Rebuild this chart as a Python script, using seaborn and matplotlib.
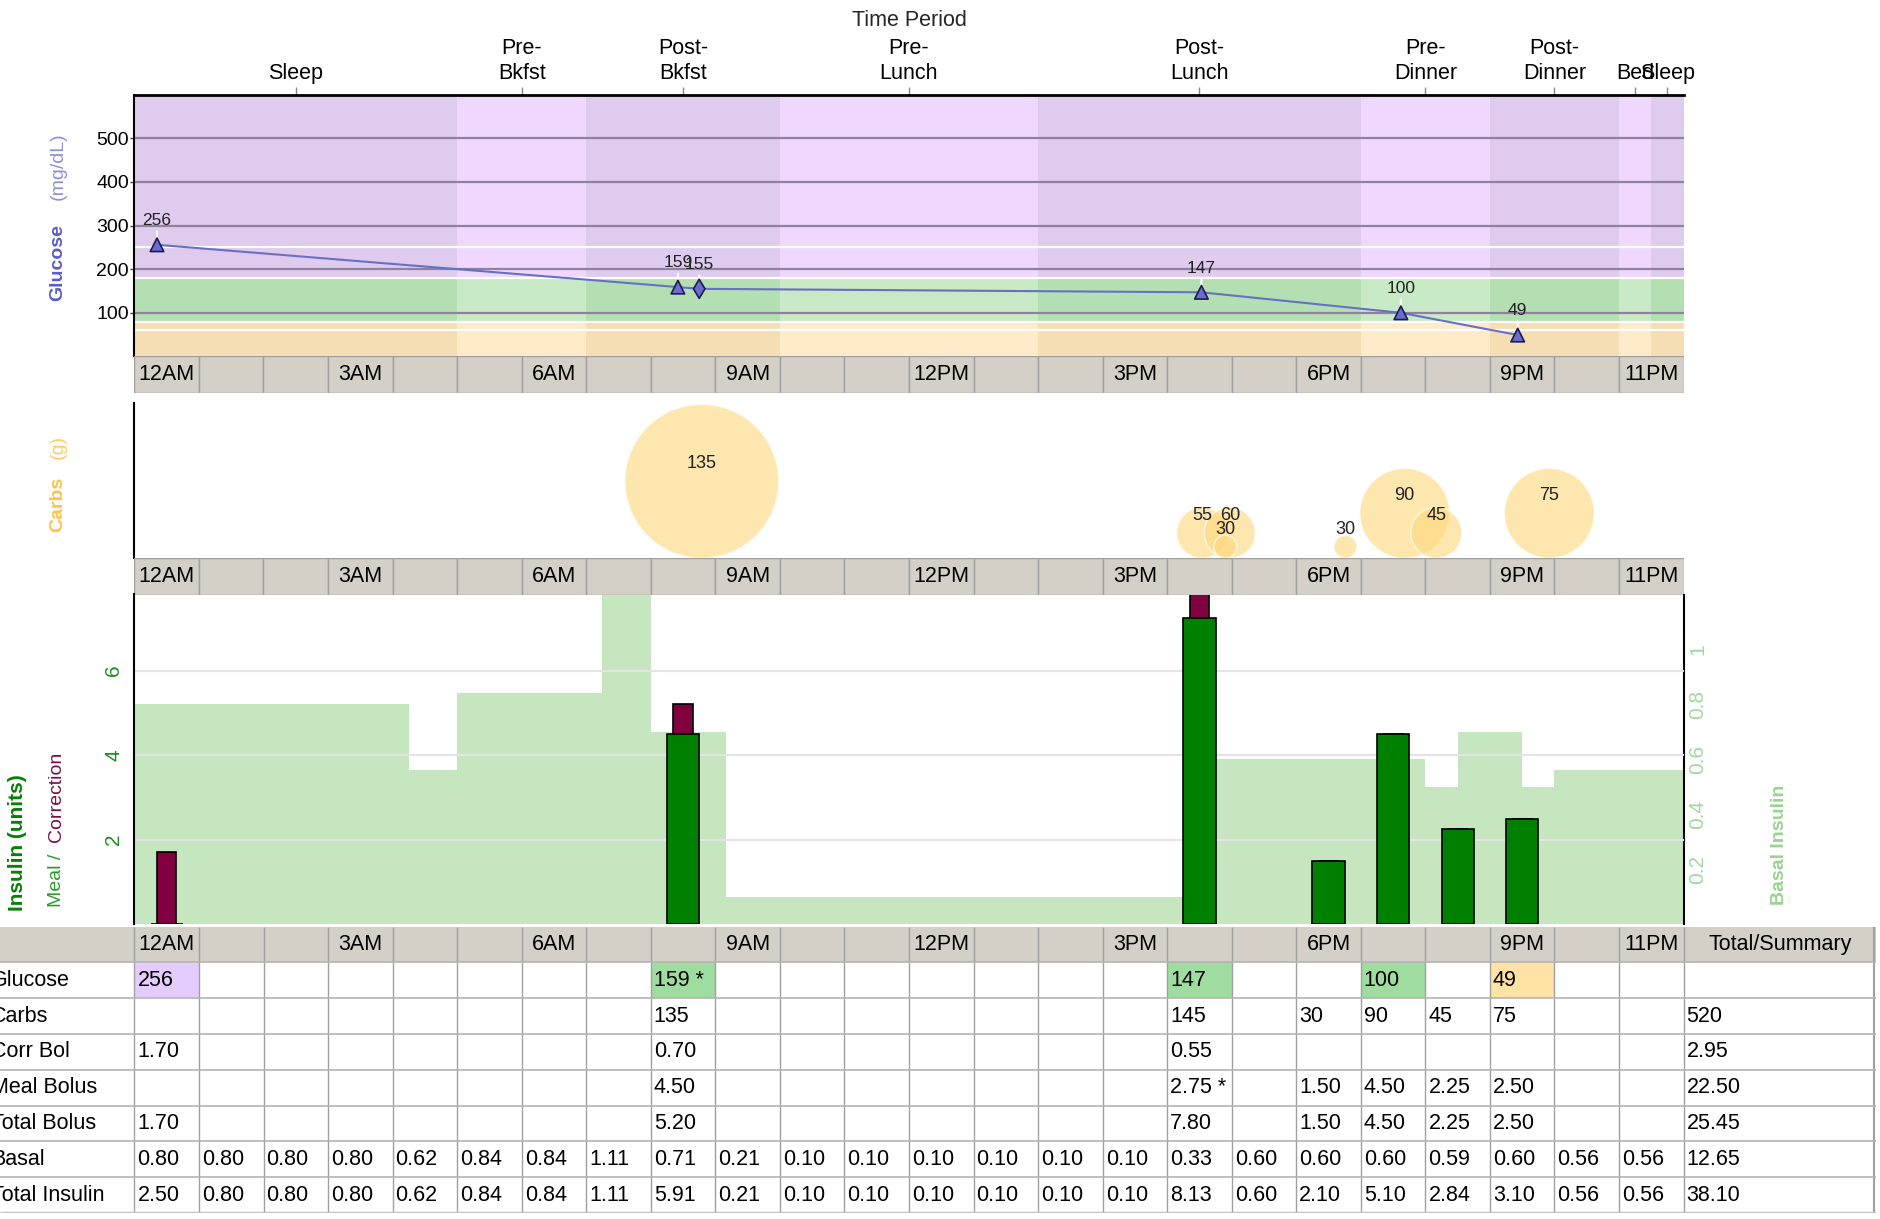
import numpy as np
import pandas as pd
import matplotlib
matplotlib.use("Agg")
import matplotlib.pyplot as plt
import seaborn as sns

W, H = 1881, 1219

# ---- data ----
period_names = ["Sleep", "Pre-\nBkfst", "Post-\nBkfst", "Pre-\nLunch", "Post-\nLunch",
                "Pre-\nDinner", "Post-\nDinner", "Bed", "Sleep"]
period_edges = [0, 5, 7, 10, 14, 19, 21, 23, 23.5, 24]

hour_labels = ["12AM", "3AM", "6AM", "9AM", "12PM", "3PM", "6PM", "9PM", "11PM"]
hour_label_pos = [0, 3, 6, 9, 12, 15, 18, 21, 23]

glucose_time = [0.35, 8.42, 8.75, 16.53, 19.62, 21.43]
glucose_value = [256, 159, 155, 147, 100, 49]
glucose_kind = ["meter", "meter", "sensor", "meter", "meter", "meter"]

carb_time = [8.79, 16.54, 16.97, 16.90, 18.76, 19.68, 20.17, 21.92]
carb_value = [135, 55, 60, 30, 30, 90, 45, 75]

bolus_time = [0.5, 8.5, 16.5, 18.5, 19.5, 20.5, 21.5]
bolus_meal = [0, 4.50, 7.25, 1.50, 4.50, 2.25, 2.50]
bolus_total = [1.70, 5.20, 7.80, 1.50, 4.50, 2.25, 2.50]

basal_time = [0, 4.25, 5.0, 7.25, 8.0, 9.17, 16.5, 20.0, 20.5, 21.5, 22.0, 24]
basal_rate = [0.80, 0.56, 0.84, 1.20, 0.70, 0.10, 0.60, 0.50, 0.70, 0.50, 0.56, 0.56]

table_rows = ["Glucose", "Carbs", "Corr Bol", "Meal Bolus", "Total Bolus", "Basal", "Total Insulin"]
tbl_glucose = {0: "256", 8: "159 *", 16: "147", 19: "100", 21: "49"}
tbl_carbs = {8: "135", 16: "145", 18: "30", 19: "90", 20: "45", 21: "75"}
tbl_corr = {0: "1.70", 8: "0.70", 16: "0.55"}
tbl_meal = {8: "4.50", 16: "2.75 *", 18: "1.50", 19: "4.50", 20: "2.25", 21: "2.50"}
tbl_total_bolus = {0: "1.70", 8: "5.20", 16: "7.80", 18: "1.50", 19: "4.50", 20: "2.25", 21: "2.50"}
tbl_basal = ["0.80", "0.80", "0.80", "0.80", "0.62", "0.84", "0.84", "1.11", "0.71", "0.21",
             "0.10", "0.10", "0.10", "0.10", "0.10", "0.10", "0.33", "0.60", "0.60", "0.60",
             "0.59", "0.60", "0.56", "0.56"]
tbl_total_insulin = ["2.50", "0.80", "0.80", "0.80", "0.62", "0.84", "0.84", "1.11", "5.91", "0.21",
                     "0.10", "0.10", "0.10", "0.10", "0.10", "0.10", "8.13", "0.60", "2.10", "5.10",
                     "2.84", "3.10", "0.56", "0.56"]
tbl_summary = ["", "520", "2.95", "22.50", "25.45", "12.65", "38.10"]

# ---- style ----
sns.set_theme(style="white")
plt.rcParams["font.family"] = ["Liberation Sans", "DejaVu Sans"]
plt.rcParams["text.color"] = "black"
plt.rcParams["xtick.color"] = "black"
plt.rcParams["ytick.color"] = "black"

GRAY = "#D4D0C8"
CELL_EDGE = "#A0A0A0"
FS = 15.5

# glucose zones: (lo, hi, light, dark)
zones = [(0, 80, "#FDEBCA", "#F5DEB4"),
         (80, 180, "#C8EAC6", "#B4DFB2"),
         (180, 600, "#EFD7FD", "#DECBEE")]
zone_cell = {"low": "#FFE2A6", "target": "#9FDC9F", "high": "#E5CCFF"}


def zone_of(g):
    if g < 80:
        return "low"
    if g <= 180:
        return "target"
    return "high"


carb_radius_steps = [(30, 11.5), (60, 25.5), (90, 45), (10000, 77)]


def carb_radius(v):
    for top, r in carb_radius_steps:
        if v <= top:
            return r


fig = plt.figure(figsize=(W / 100, H / 100), dpi=100)


def add_ax(x0, y0, x1, y1):
    return fig.add_axes([x0 / W, 1 - y1 / H, (x1 - x0) / W, (y1 - y0) / H])


def ptext(x, y, s, **kw):
    fig.text(x / W, 1 - y / H, s, ha="center", va="center", rotation=90, **kw)


def time_row(ax):
    ax.set_xlim(0, 24)
    ax.set_ylim(0, 1)
    ax.bar(np.arange(24) + 0.5, 1, width=1, color=GRAY, edgecolor=CELL_EDGE, linewidth=1)
    for h, lab in zip(hour_label_pos, hour_labels):
        ax.text(h + 0.5, 0.5, lab, ha="center", va="center", fontsize=FS)
    ax.axis("off")


X0, X1 = 134.4, 1683.6
hour_px = (X1 - X0) / 24

# ---- glucose panel ----
ax_g = add_ax(X0, 94.8, X1, 356.4)
ax_g.set_xlim(0, 24)
ax_g.set_ylim(0, 600)
for i in range(len(period_names)):
    a, b = period_edges[i], period_edges[i + 1]
    for lo, hi, light, dark in zones:
        ax_g.fill_between([a, b], lo, hi, color=dark if i % 2 == 0 else light, lw=0, zorder=0)
for y in [100, 200, 300, 400, 500]:
    ax_g.axhline(y, color="#8F819F", lw=1.6, zorder=1)
for y in [60, 80, 180, 250]:
    ax_g.axhline(y, color="white", lw=1.6, zorder=1)

sns.lineplot(x=glucose_time, y=glucose_value, ax=ax_g, color="#6670C4", lw=1.5, zorder=2)
sns.scatterplot(x=glucose_time, y=glucose_value, style=glucose_kind,
                markers={"meter": "^", "sensor": "d"}, s=95, color="#6B6BD0",
                edgecolor="#1C1C50", linewidth=1.2, legend=False, ax=ax_g, zorder=5)
for t, g in zip(glucose_time, glucose_value):
    ax_g.annotate(str(g), (t, g), xytext=(0, 12), textcoords="offset points",
                  ha="center", va="bottom", fontsize=12.5, color="#222222", zorder=3,
                  arrowprops=dict(arrowstyle="-", color="white", lw=1.5, shrinkA=0, shrinkB=0))

centers = [(a + b) / 2 for a, b in zip(period_edges[:-1], period_edges[1:])]
ax_g.xaxis.tick_top()
ax_g.set_xticks(centers, period_names)
ax_g.tick_params(axis="x", top=True, bottom=False, length=6, width=1, color="#888888",
                 labelsize=FS, pad=2)
ax_g.xaxis.set_label_position("top")
ax_g.set_xlabel("Time Period", fontsize=FS, labelpad=9)
ax_g.set_yticks([100, 200, 300, 400, 500])
ax_g.tick_params(axis="y", left=True, length=3, width=1, color="#444444", labelsize=14, pad=1)
ax_g.set_ylabel("")
for side in ["right", "bottom"]:
    ax_g.spines[side].set_visible(False)
ax_g.spines["top"].set_color("black")
ax_g.spines["top"].set_linewidth(2)
ax_g.spines["left"].set_color("black")
ax_g.spines["left"].set_linewidth(1.5)

time_row(add_ax(X0, 356.4, X1, 392.7))

# ---- carbs panel ----
ax_c = add_ax(X0, 402.7, X1, 558.3)
ax_c.set_xlim(0, 24)
ax_c.set_ylim(0, 558.3 - 402.7)
carb_r = [carb_radius(v) for v in carb_value]
carb_s = [(2 * r * 0.72) ** 2 for r in carb_r]
sns.scatterplot(x=carb_time, y=carb_r, s=carb_s, color="#FDD77B", alpha=0.6,
                edgecolor="white", linewidth=1.2, legend=False, ax=ax_c)
for t, r, v in zip(carb_time, carb_r, carb_value):
    ax_c.text(t, r + 17.5, str(v), ha="center", va="center", fontsize=13, color="#222222")
ax_c.set_xticks([])
ax_c.set_yticks([])
for side in ["right", "bottom", "top"]:
    ax_c.spines[side].set_visible(False)
ax_c.spines["left"].set_color("black")
ax_c.spines["left"].set_linewidth(1.5)

time_row(add_ax(X0, 558.3, X1, 594.5))

# ---- insulin panel ----
ax_i = add_ax(X0, 594.5, X1, 924.3)
ax_b = ax_i.twinx()
ax_b.fill_between(basal_time, basal_rate, step="post", color="#C6E6C0", lw=0)
ax_b.set_xlim(0, 24)
ax_b.set_ylim(0, 1.2)
ax_i.set_zorder(ax_b.get_zorder() + 1)
ax_i.patch.set_visible(False)

sns.barplot(x=bolus_time, y=bolus_total, native_scale=True, width=0.3, color="#800040",
            saturation=1, errorbar=None, edgecolor="black", linewidth=1.2, ax=ax_i)
sns.barplot(x=bolus_time, y=bolus_meal, native_scale=True, width=0.5, color="#008000",
            saturation=1, errorbar=None, edgecolor="black", linewidth=1.2, ax=ax_i)
ax_i.set_xlim(0, 24)
ax_i.set_ylim(0, 7.8)
ax_i.set_xticks([])
ax_i.set_xlabel("")
ax_i.set_ylabel("")
ax_i.set_yticks([2, 4, 6], ["2", "4", "6"], rotation=90, ha="center", va="center")
ax_i.tick_params(axis="y", length=0, pad=15, labelsize=15, labelcolor="#1E8C1E")
ax_i.grid(axis="y", color="#E4E4E4", lw=1.5)
ax_i.set_axisbelow(True)
for ax in (ax_i, ax_b):
    for side in ["top", "bottom"]:
        ax.spines[side].set_visible(False)
ax_i.spines["right"].set_visible(False)
ax_b.spines["left"].set_visible(False)
ax_i.spines["left"].set_color("black")
ax_i.spines["left"].set_linewidth(1.5)
ax_b.spines["right"].set_color("black")
ax_b.spines["right"].set_linewidth(1.5)
ax_b.set_yticks([0.2, 0.4, 0.6, 0.8, 1.0], ["0.2", "0.4", "0.6", "0.8", "1"],
                rotation=90, ha="center", va="center")
ax_b.tick_params(axis="y", length=0, pad=10, labelsize=15, labelcolor="#A0D8A0")
ax_b.grid(False)

# ---- axis titles ----
ptext(58, 166, "(mg/dL)", fontsize=14, color="#8C90DC")
ptext(58, 263, "Glucose", fontsize=14, fontweight="bold", color="#5A5EC8")
ptext(58, 447, "(g)", fontsize=14, color="#FFCC66")
ptext(58, 504, "Carbs", fontsize=14, fontweight="bold", color="#FFC24A")
ptext(18, 843, "Insulin (units)", fontsize=15, fontweight="bold", color="#078007")
ptext(57, 880, "Meal /", fontsize=14, color="#2A9A2A")
ptext(57, 797, "Correction", fontsize=14, color="#7B1046")
ptext(1780, 845, "Basal Insulin", fontsize=14, fontweight="bold", color="#99D490")

# ---- table ----
T0, T1 = 0, 1876
ax_t = add_ax(T0, 926.5, T1, 1213)
x_left = (T0 - X0) / hour_px
x_right = 24 + (T1 - X1) / hour_px
ax_t.set_xlim(x_left, x_right)
ax_t.set_ylim(8, 0)
ax_t.axis("off")
ax_t.fill_between([x_left, x_right], 0, 1, color=GRAY, lw=0)
for h, s in tbl_glucose.items():
    ax_t.fill_between([h, h + 1], 1, 2, color=zone_cell[zone_of(int(s.split()[0]))], lw=0)
ax_t.vlines(range(25), 0, 8, color=CELL_EDGE, lw=1)
ax_t.vlines(x_right - 0.03, 0, 8, color=CELL_EDGE, lw=1.5)
ax_t.hlines(range(1, 8), x_left, x_right, color="#B4B4B4", lw=1.2)
ax_t.hlines(8, x_left, x_right, color="#C4C4C4", lw=2.5)

for h, lab in zip(hour_label_pos, hour_labels):
    ax_t.text(h + 0.5, 0.5, lab, ha="center", va="center", fontsize=FS)
ax_t.text((24 + x_right) / 2, 0.5, "Total/Summary", ha="center", va="center", fontsize=FS)

label_x = x_left - 9 / hour_px
pad = 3 / hour_px
sparse_rows = [tbl_glucose, tbl_carbs, tbl_corr, tbl_meal, tbl_total_bolus]
full_rows = [tbl_basal, tbl_total_insulin]
for r, name in enumerate(table_rows):
    y = r + 1.5
    ax_t.text(label_x, y, name, ha="left", va="center", fontsize=FS)
    if r < len(sparse_rows):
        cells = sparse_rows[r]
    else:
        cells = dict(enumerate(full_rows[r - len(sparse_rows)]))
    for h, s in cells.items():
        ax_t.text(h + pad, y, s, ha="left", va="center", fontsize=FS)
    ax_t.text(24 + pad, y, tbl_summary[r], ha="left", va="center", fontsize=FS)

fig.savefig("out.png", dpi=100)
